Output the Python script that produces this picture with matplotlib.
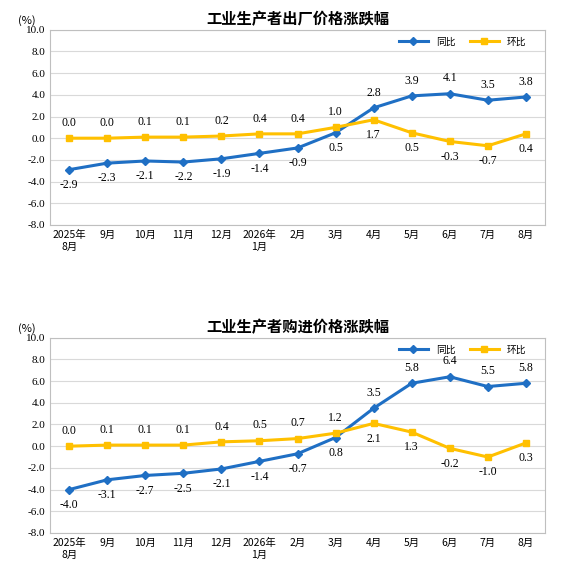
import matplotlib.pyplot as plt

plt.rcParams['font.family'] = ['Noto Sans CJK SC', 'DejaVu Sans']

months = ['2025年\n8月', '9月', '10月', '11月', '12月', '2026年\n1月', '2月', '3月', '4月', '5月', '6月', '7月', '8月']

out_yoy = [-2.9, -2.3, -2.1, -2.2, -1.9, -1.4, -0.9, 0.5, 2.8, 3.9, 4.1, 3.5, 3.8]
out_mom = [0.0, 0.0, 0.1, 0.1, 0.2, 0.4, 0.4, 1.0, 1.7, 0.5, -0.3, -0.7, 0.4]
in_yoy = [-4.0, -3.1, -2.7, -2.5, -2.1, -1.4, -0.7, 0.8, 3.5, 5.8, 6.4, 5.5, 5.8]
in_mom = [0.0, 0.1, 0.1, 0.1, 0.4, 0.5, 0.7, 1.2, 2.1, 1.3, -0.2, -1.0, 0.3]

# label above (+1) or below (-1)
yoy_pos = [-1] * 8 + [1] * 5
mom_pos = [1] * 8 + [-1] * 5

BLUE = '#1f6fc4'
YELLOW = '#ffc000'

fig = plt.figure(figsize=(5.7, 5.61), dpi=100)


def panel(rect, title, yoy, mom):
    ax = fig.add_axes(rect)
    x = range(len(months))
    ax.plot(x, yoy, color=BLUE, marker='D', markersize=4, lw=2.2, label='同比', zorder=3)
    ax.plot(x, mom, color=YELLOW, marker='s', markersize=4, lw=2.2, label='环比', zorder=3)
    for i in x:
        ax.annotate(f'{yoy[i]:.1f}', (i, yoy[i]), xytext=(0, 11 * yoy_pos[i]), textcoords='offset points',
                    ha='center', va='center', fontsize=8.5, family='Liberation Serif')
        ax.annotate(f'{mom[i]:.1f}', (i, mom[i]), xytext=(0, 11 * mom_pos[i]), textcoords='offset points',
                    ha='center', va='center', fontsize=8.5, family='Liberation Serif')
    ax.set_xlim(-0.5, len(months) - 0.5)
    ax.set_ylim(-8, 10)
    ax.set_yticks(range(-8, 11, 2))
    ax.set_yticklabels([f'{v:.1f}' for v in range(-8, 11, 2)], fontsize=8, family='Liberation Serif')
    ax.set_xticks(list(x))
    ax.set_xticklabels(months, fontsize=7.5)
    ax.tick_params(length=0)
    ax.grid(axis='y', color='#d9d9d9', lw=0.8)
    ax.set_axisbelow(True)
    for s in ax.spines.values():
        s.set_color('#bfbfbf')
    ax.set_title(title, fontsize=11, fontweight='bold', pad=4)
    ax.text(-0.03, 1.03, '(%)', transform=ax.transAxes, fontsize=8, ha='right')
    ax.legend(loc='upper right', ncol=2, frameon=False, fontsize=7, bbox_to_anchor=(0.98, 1.01),
              handlelength=3, columnspacing=1.5)
    return ax


panel([0.088, 0.599, 0.868, 0.348], '工业生产者出厂价格涨跌幅', out_yoy, out_mom)
panel([0.088, 0.05, 0.868, 0.348], '工业生产者购进价格涨跌幅', in_yoy, in_mom)

fig.savefig('out.png', dpi=100)
